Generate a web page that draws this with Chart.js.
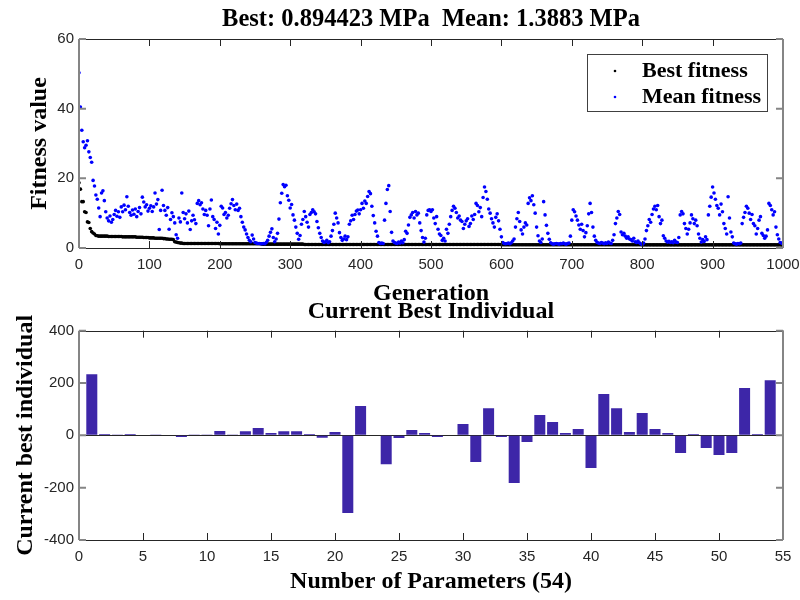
<!DOCTYPE html>
<html>
<head>
<title>GA progress</title>
<script src="https://cdn.jsdelivr.net/npm/chart.js"></script>
<style>
    body { margin: 0; background: #fff; }
    .wrap { position: relative; width: 800px; height: 600px; }
    #fitnessChart { position: absolute; left: 0; top: 0; }
    #individualChart { position: absolute; left: 0; top: 296px; }
</style>
</head>
<body>
<div class="wrap">
    <canvas id="fitnessChart" width="800" height="320"></canvas>
    <canvas id="individualChart" width="800" height="304"></canvas>
</div>
<script>
// generations 0, 2, 4 ... 1000
const generations = Array.from({ length: 501 }, (_, i) => i * 2);

const bestFitness = [
    18.7, 16.9, 13.3, 13.3, 10.4, 10.2, 7.5, 7.3, 5.6, 4.7,
    4.3, 4.0, 3.6, 3.5, 3.4, 3.4, 3.4, 3.4, 3.4, 3.4,
    3.4, 3.3, 3.3, 3.3, 3.3, 3.3, 3.3, 3.3, 3.3, 3.3,
    3.3, 3.2, 3.2, 3.2, 3.2, 3.2, 3.2, 3.2, 3.2, 3.2,
    3.2, 3.1, 3.1, 3.1, 3.1, 3.1, 3.0, 3.0, 3.0, 3.0,
    2.9, 2.9, 2.9, 2.9, 2.8, 2.8, 2.8, 2.8, 2.8, 2.8,
    2.7, 2.7, 2.6, 2.6, 2.5, 2.5, 2.5, 2.4, 1.8, 1.7,
    1.6, 1.5, 1.4, 1.4, 1.3, 1.3, 1.3, 1.3, 1.3, 1.3,
    1.3, 1.3, 1.3, 1.3, 1.3, 1.3, 1.3, 1.3, 1.3, 1.3,
    1.3, 1.3, 1.3, 1.3, 1.3, 1.3, 1.3, 1.3, 1.3, 1.3,
    1.2, 1.2, 1.2, 1.2, 1.2, 1.2, 1.2, 1.2, 1.2, 1.2,
    1.2, 1.2, 1.2, 1.2, 1.2, 1.2, 1.2, 1.2, 1.2, 1.2,
    1.2, 1.2, 1.2, 1.2, 1.2, 1.2, 1.2, 1.2, 1.2, 1.2,
    1.1, 1.1, 1.1, 1.1, 1.1, 1.1, 1.1, 1.1, 1.1, 1.1,
    1.1, 1.1, 1.1, 1.1, 1.1, 1.1, 1.1, 1.1, 1.1, 1.1,
    1.1, 1.1, 1.1, 1.1, 1.1, 1.1, 1.1, 1.1, 1.1, 1.1,
    1.0, 1.0, 1.0, 1.0, 1.0, 1.0, 1.0, 1.0, 1.0, 1.0,
    1.0, 1.0, 1.0, 1.0, 1.0, 1.0, 1.0, 1.0, 1.0, 1.0,
    1.0, 1.0, 1.0, 1.0, 1.0, 1.0, 1.0, 1.0, 1.0, 1.0,
    1.0, 1.0, 1.0, 1.0, 1.0, 1.0, 1.0, 1.0, 1.0, 1.0,
    1.0, 1.0, 1.0, 1.0, 1.0, 1.0, 1.0, 1.0, 1.0, 1.0,
    1.0, 1.0, 1.0, 1.0, 1.0, 1.0, 1.0, 1.0, 1.0, 1.0,
    1.0, 1.0, 1.0, 1.0, 1.0, 1.0, 1.0, 1.0, 1.0, 1.0,
    1.0, 1.0, 1.0, 1.0, 1.0, 1.0, 1.0, 1.0, 1.0, 1.0,
    1.0, 1.0, 1.0, 1.0, 1.0, 1.0, 1.0, 1.0, 1.0, 1.0,
    1.0, 1.0, 1.0, 1.0, 1.0, 1.0, 1.0, 1.0, 1.0, 1.0,
    1.0, 1.0, 1.0, 1.0, 1.0, 1.0, 1.0, 1.0, 1.0, 1.0,
    1.0, 1.0, 1.0, 1.0, 1.0, 1.0, 1.0, 1.0, 1.0, 1.0,
    1.0, 1.0, 1.0, 1.0, 1.0, 1.0, 1.0, 1.0, 1.0, 1.0,
    1.0, 1.0, 1.0, 1.0, 1.0, 1.0, 1.0, 1.0, 1.0, 1.0,
    0.95, 0.95, 0.95, 0.95, 0.95, 0.95, 0.95, 0.95, 0.95, 0.95,
    0.95, 0.95, 0.95, 0.95, 0.95, 0.95, 0.95, 0.95, 0.95, 0.95,
    0.95, 0.95, 0.95, 0.95, 0.95, 0.95, 0.95, 0.95, 0.95, 0.95,
    0.95, 0.95, 0.95, 0.95, 0.95, 0.95, 0.95, 0.95, 0.95, 0.95,
    0.95, 0.95, 0.95, 0.95, 0.95, 0.95, 0.95, 0.95, 0.95, 0.95,
    0.95, 0.95, 0.95, 0.95, 0.95, 0.95, 0.95, 0.95, 0.95, 0.95,
    0.95, 0.95, 0.95, 0.95, 0.95, 0.95, 0.95, 0.95, 0.95, 0.95,
    0.95, 0.95, 0.95, 0.95, 0.95, 0.95, 0.95, 0.95, 0.95, 0.95,
    0.95, 0.95, 0.95, 0.95, 0.95, 0.95, 0.95, 0.95, 0.95, 0.95,
    0.95, 0.95, 0.95, 0.95, 0.95, 0.95, 0.95, 0.95, 0.95, 0.95,
    0.9, 0.9, 0.9, 0.9, 0.9, 0.9, 0.9, 0.9, 0.9, 0.9,
    0.9, 0.9, 0.9, 0.9, 0.9, 0.9, 0.9, 0.9, 0.9, 0.9,
    0.9, 0.9, 0.9, 0.9, 0.9, 0.9, 0.9, 0.9, 0.9, 0.9,
    0.9, 0.9, 0.9, 0.9, 0.9, 0.9, 0.9, 0.9, 0.9, 0.9,
    0.9, 0.9, 0.9, 0.9, 0.9, 0.9, 0.9, 0.9, 0.9, 0.9,
    0.9, 0.9, 0.9, 0.9, 0.9, 0.9, 0.9, 0.9, 0.9, 0.9,
    0.9, 0.9, 0.9, 0.9, 0.9, 0.9, 0.9, 0.9, 0.9, 0.9,
    0.9, 0.9, 0.9, 0.9, 0.9, 0.9, 0.9, 0.9, 0.9, 0.9,
    0.9, 0.9, 0.9, 0.9, 0.9, 0.9, 0.9, 0.9, 0.9, 0.9,
    0.9, 0.9, 0.9, 0.9, 0.9, 0.9, 0.9, 0.9, 0.9, 0.9,
    0.894
];

const meanFitness = [
    50.3, 40.5, 33.8, 30.5, 28.8, 29.5, 30.8, 27.6, 26.0, 24.6,
    19.4, 17.8, 15.2, 14.0, 11.5, 9.0, 15.8, 16.4, 13.6, 10.4,
    8.6, 7.8, 9.2, 7.4, 8.2, 9.6, 10.8, 9.1, 10.4, 8.8,
    11.8, 10.4, 12.3, 11.0, 14.7, 12.0, 10.2, 9.4, 10.9, 9.7,
    11.2, 9.0, 10.5, 11.6, 9.8, 14.6, 13.2, 11.8, 12.4, 10.6,
    11.4, 12.1, 10.5, 11.8, 15.8, 12.6, 13.9, 5.3, 10.8, 16.6,
    12.2, 10.8, 9.4, 11.6, 5.4, 8.2, 10.1, 9.0, 7.2, 3.8,
    2.8, 8.6, 7.5, 15.8, 10.2, 8.4, 9.8, 7.2, 10.6, 5.3,
    7.8, 9.4, 8.1, 7.0, 12.8, 13.6, 12.4, 13.0, 11.2, 9.6,
    10.8, 9.4, 6.4, 11.2, 13.8, 9.0, 8.2, 5.6, 7.4, 4.0,
    6.5, 12.0, 11.5, 9.6, 10.2, 8.6, 9.4, 11.4, 12.7, 13.9,
    12.2, 11.0, 12.6, 10.8, 11.4, 9.0, 7.4, 6.0, 5.2, 4.0,
    3.0, 2.2, 1.8, 3.7, 2.6, 1.6, 1.4, 1.3, 1.3, 1.2,
    1.2, 1.3, 1.2, 1.6, 2.2, 3.4, 4.5, 5.5, 3.0, 1.8,
    2.6, 4.2, 8.3, 13.0, 15.7, 18.2, 17.6, 18.0, 15.0, 13.7,
    11.5, 12.5, 9.5, 8.0, 6.0, 4.2, 2.5, 3.6, 6.8, 8.2,
    10.5, 9.0, 7.4, 6.0, 9.6, 10.2, 11.0, 10.4, 9.8, 7.6,
    5.8, 4.2, 3.0, 2.0, 1.6, 1.8, 2.2, 1.5, 1.8, 3.4,
    5.0, 6.8, 10.0, 8.6, 7.2, 4.4, 3.0, 2.2, 2.6, 3.4,
    2.4, 3.2, 6.8, 7.8, 9.4, 8.2, 9.6, 10.6, 10.9, 9.8,
    11.0, 12.8, 11.4, 13.5, 12.8, 14.8, 16.2, 15.6, 12.0, 9.3,
    7.2, 4.8, 3.4, 1.6, 1.3, 1.4, 1.3, 8.0, 12.8, 16.8,
    17.9, 10.5, 4.5, 2.0, 1.6, 1.4, 1.3, 1.7, 1.4, 2.0,
    1.5, 2.4, 4.8, 4.2, 6.6, 8.8, 9.5, 10.2, 8.6, 10.5,
    9.5, 10.0, 7.2, 5.0, 3.0, 1.7, 2.8, 9.5, 10.8, 11.0,
    10.5, 11.0, 8.6, 7.0, 9.0, 5.4, 4.0, 3.6, 2.2, 2.8,
    2.0, 5.4, 4.2, 6.8, 9.0, 10.8, 12.0, 11.4, 10.2, 8.6,
    9.2, 8.0, 7.6, 5.6, 6.8, 7.8, 8.4, 6.2, 7.0, 9.2,
    8.2, 9.6, 12.8, 12.2, 10.4, 11.6, 9.0, 14.5, 17.5, 16.2,
    14.0, 11.2, 10.0, 8.4, 7.2, 6.0, 8.8, 9.8, 7.8, 5.4,
    3.2, 1.6, 1.3, 1.2, 1.3, 1.4, 1.2, 1.5, 2.0, 2.6,
    6.0, 8.4, 10.2, 7.6, 5.2, 4.0, 6.0, 7.2, 6.6, 12.8,
    14.4, 13.6, 15.0, 12.4, 10.0, 6.0, 3.5, 2.0, 1.6, 2.6,
    13.3, 9.5, 6.5, 4.2, 2.5, 1.5, 1.2, 1.1, 1.2, 1.3,
    1.2, 1.1, 1.3, 1.2, 1.4, 1.2, 1.1, 1.3, 1.4, 3.4,
    8.0, 11.0, 10.4, 9.2, 8.0, 6.6, 5.4, 6.8, 5.0, 3.2,
    4.4, 6.4, 9.8, 12.8, 10.2, 6.0, 3.4, 2.2, 1.6, 1.4,
    1.3, 1.6, 1.4, 1.2, 1.5, 1.3, 1.7, 1.4, 1.3, 2.2,
    3.8, 7.0, 8.6, 10.5, 9.6, 4.6, 3.8, 4.2, 3.4, 2.8,
    3.2, 2.6, 2.4, 2.0, 2.8, 1.8, 1.6, 2.0, 1.5, 1.2,
    1.0, 1.4, 2.6, 5.0, 6.4, 8.2, 7.4, 9.6, 11.2, 12.0,
    11.0, 12.2, 9.0, 7.0, 8.0, 3.5, 2.8, 2.0, 1.7, 1.9,
    1.6, 1.8, 1.5, 2.2, 1.7, 1.6, 3.0, 9.5, 10.5, 9.8,
    7.0, 5.6, 4.0, 5.4, 7.2, 9.5, 8.4, 7.0, 8.0, 6.4,
    4.0, 2.8, 1.7, 2.4, 1.9, 3.2, 2.4, 9.5, 12.0, 14.6,
    17.5, 15.8, 14.0, 12.2, 11.4, 9.5, 12.6, 10.4, 7.0, 5.6,
    4.0, 14.7, 8.6, 4.6, 3.2, 1.4, 1.2, 1.1, 1.3, 1.2,
    1.4, 7.0, 8.8, 10.2, 12.0, 11.4, 10.0, 8.2, 9.6, 7.0,
    6.4, 4.0, 5.6, 8.0, 9.0, 4.2, 3.6, 2.8, 3.4, 5.2,
    12.8, 12.2, 11.0, 9.5, 10.4, 6.0, 3.8, 2.6, 1.6, 1.4,
    1.2
];

const paramIndex = [
    1, 2, 3, 4, 5, 6, 7, 8, 9, 10, 11, 12, 13, 14, 15, 16, 17, 18,
    19, 20, 21, 22, 23, 24, 25, 26, 27, 28, 29, 30, 31, 32, 33, 34, 35, 36,
    37, 38, 39, 40, 41, 42, 43, 44, 45, 46, 47, 48, 49, 50, 51, 52, 53, 54
];
const bestIndividual = [
    234, 5, 1, 5, 2, 1, 0, -6, 1, 1, 17, 1, 16, 28, 9, 16, 16, 5,
    -9, 13, -297, 112, 2, -110, -10, 20, 9, -6, 2, 43, -102, 104, -6, -182, -25, 78,
    51, 9, 24, -125, 158, 104, 13, 85, 24, 9, -67, 5, -48, -75, -67, 181, 5, 211
];

const serifFont = "'Liberation Serif', 'Times New Roman', serif";
const sansFont = "'Liberation Sans', Arial, sans-serif";
const tickColor = '#262626';

// MATLAB style box with ticks pointing inwards
const innerTicks = {
    id: 'innerTicks',
    afterDraw(chart) {
        const { ctx, chartArea: a, scales: { x, y } } = chart;
        const len = 7;
        ctx.save();
        ctx.strokeStyle = '#262626';
        ctx.lineWidth = 1;
        ctx.beginPath();
        ctx.moveTo(a.left, Math.round(a.top) + 0.5); ctx.lineTo(a.right, Math.round(a.top) + 0.5);
        ctx.moveTo(a.left, Math.round(a.bottom) + 0.5); ctx.lineTo(a.right, Math.round(a.bottom) + 0.5);
        x.ticks.forEach(t => {
            const px = Math.round(x.getPixelForValue(t.value)) + 0.5;
            ctx.moveTo(px, a.bottom); ctx.lineTo(px, a.bottom - len);
            ctx.moveTo(px, a.top); ctx.lineTo(px, a.top + len);
        });
        ctx.stroke();
        ctx.strokeStyle = '#858585';
        ctx.lineWidth = 2;
        ctx.beginPath();
        ctx.moveTo(a.left, a.top); ctx.lineTo(a.left, a.bottom);
        ctx.moveTo(a.right, a.top); ctx.lineTo(a.right, a.bottom);
        y.ticks.forEach(t => {
            const py = y.getPixelForValue(t.value);
            ctx.moveTo(a.left, py); ctx.lineTo(a.left + len, py);
            ctx.moveTo(a.right, py); ctx.lineTo(a.right - len, py);
        });
        ctx.stroke();
        ctx.restore();
    }
};

// legend box inside the plot, top right
const legendBox = {
    id: 'legendBox',
    afterDraw(chart) {
        const { ctx, chartArea: a } = chart;
        const x0 = a.right - 196, y0 = a.top + 15;
        ctx.save();
        ctx.fillStyle = '#fff';
        ctx.fillRect(x0, y0, 180, 57);
        ctx.strokeStyle = '#404040';
        ctx.lineWidth = 1;
        ctx.strokeRect(Math.round(x0) + 0.5, Math.round(y0) + 0.5, 180, 57);
        ctx.font = 'bold 22px ' + serifFont;
        ctx.textBaseline = 'middle';
        chart.data.datasets.forEach((ds, i) => {
            const yy = y0 + 17 + i * 26;
            ctx.fillStyle = ds.backgroundColor;
            ctx.beginPath();
            ctx.arc(x0 + 28, yy, 1.3, 0, Math.PI * 2);
            ctx.fill();
            ctx.fillStyle = '#000';
            ctx.fillText(ds.label, x0 + 55, yy);
        });
        ctx.restore();
    }
};

function axisTitle(text, padding) {
    return {
        display: true, text: text, color: '#000', padding: padding,
        font: { family: serifFont, size: 24, weight: 'bold', lineHeight: 1 }
    };
}

const plainTick = v => String(v);

// fixed axis box sizes, end labels may hang over the plot edges
function fixX(h) {
    return s => { s.height = h; s.paddingLeft = 0; s.paddingRight = 0; };
}
function fixY(w) {
    return s => { s.width = w; s.paddingTop = 0; s.paddingBottom = 0; };
}

new Chart(document.getElementById('fitnessChart'), {
    type: 'scatter',
    data: {
        datasets: [{
            label: 'Best fitness',
            data: generations.map((g, i) => ({ x: g, y: bestFitness[i] })),
            backgroundColor: '#000000',
            pointRadius: 1.8,
            pointBorderWidth: 0,
            order: 2
        }, {
            label: 'Mean fitness',
            data: generations.map((g, i) => ({ x: g, y: meanFitness[i] })),
            backgroundColor: '#0000ff',
            pointRadius: 1.8,
            pointBorderWidth: 0,
            order: 1
        }]
    },
    options: {
        responsive: false,
        animation: false,
        layout: { padding: { right: 17 } },
        plugins: {
            legend: { display: false },
            tooltip: { enabled: false },
            title: {
                display: true, fullSize: false,
                text: 'Best: 0.894423 MPa  Mean: 1.3883 MPa',
                color: '#000',
                font: { family: serifFont, size: 24.5, weight: 'bold', lineHeight: 1 },
                padding: { top: 7, bottom: 7.5 }
            }
        },
        scales: {
            x: {
                type: 'linear', min: 0, max: 1000,
                ticks: { stepSize: 100, padding: 8, color: tickColor, font: { family: sansFont, size: 15 }, maxRotation: 0, callback: plainTick },
                grid: { display: false, drawTicks: false },
                border: { display: false },
                title: axisTitle('Generation', { top: 0, bottom: 14 }),
                afterFit: fixX(72)
            },
            y: {
                min: 0, max: 60,
                ticks: { stepSize: 20, padding: 5, color: tickColor, font: { family: sansFont, size: 15 }, callback: plainTick },
                grid: { display: false, drawTicks: false },
                border: { display: false },
                title: axisTitle('Fitness value', { top: 28, bottom: 0 }),
                afterFit: fixY(79)
            }
        }
    },
    plugins: [innerTicks, legendBox]
});

new Chart(document.getElementById('individualChart'), {
    type: 'bar',
    data: {
        datasets: [{
            label: 'Current best individual',
            data: paramIndex.map((p, i) => ({ x: p, y: bestIndividual[i] })),
            backgroundColor: '#3d26a8',
            barPercentage: 1,
            categoryPercentage: 0.86
        }]
    },
    options: {
        responsive: false,
        animation: false,
        layout: { padding: { right: 17 } },
        plugins: {
            legend: { display: false },
            tooltip: { enabled: false },
            title: {
                display: true, fullSize: false,
                text: 'Current Best Individual',
                color: '#000',
                font: { family: serifFont, size: 24, weight: 'bold', lineHeight: 1 },
                padding: { top: 4, bottom: 6.7 }
            }
        },
        scales: {
            x: {
                type: 'linear', min: 0, max: 55, offset: false,
                ticks: { stepSize: 5, padding: 8, color: tickColor, font: { family: sansFont, size: 15 }, maxRotation: 0, callback: plainTick },
                grid: { display: false, drawTicks: false },
                border: { display: false },
                title: axisTitle('Number of Parameters (54)', { top: 0, bottom: 6 }),
                afterFit: fixX(60)
            },
            y: {
                min: -400, max: 400,
                ticks: { stepSize: 200, padding: 5, color: tickColor, font: { family: sansFont, size: 15 }, callback: plainTick },
                grid: {
                    drawTicks: false,
                    color: c => (c.tick && c.tick.value === 0) ? '#262626' : 'rgba(0,0,0,0)'
                },
                border: { display: false },
                title: axisTitle('Current best individual', { top: 14, bottom: 0 }),
                afterFit: fixY(79)
            }
        }
    },
    plugins: [innerTicks]
});
</script>
</body>
</html>
